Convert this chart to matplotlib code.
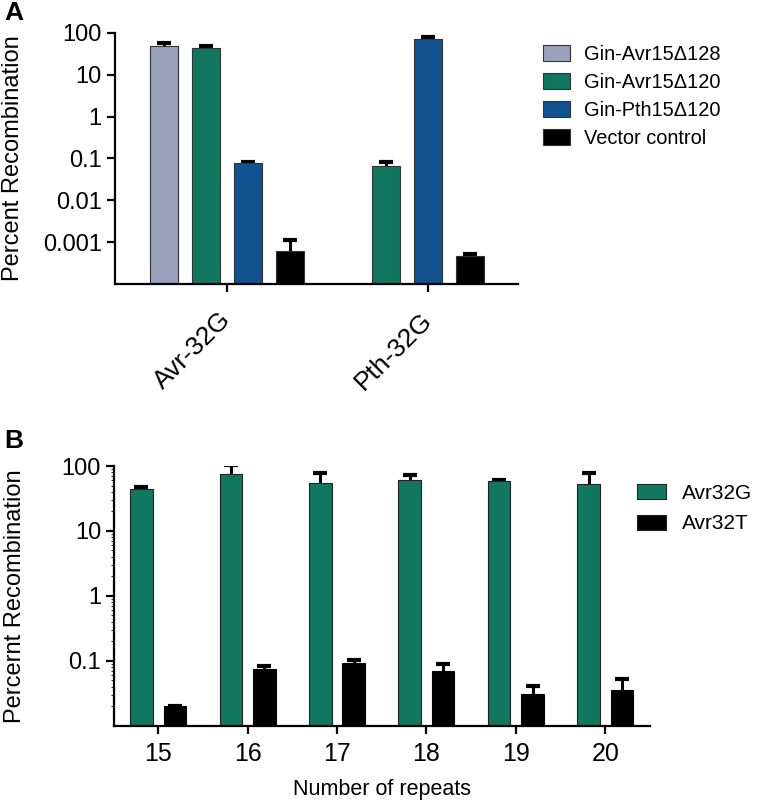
import numpy as np
import matplotlib
matplotlib.use("Agg")
import matplotlib.pyplot as plt
from matplotlib.ticker import NullLocator
from matplotlib.transforms import ScaledTranslation

plt.rcParams['font.family'] = ['Liberation Sans', 'DejaVu Sans']

# ---- Panel A data ----
groups_a = ['Avr-32G', 'Pth-32G']
series_a = ['Gin-Avr15\u0394128', 'Gin-Avr15\u0394120', 'Gin-Pth15\u0394120', 'Vector control']
colors_a = ['#99A1BD', '#117760', '#12518F', '#000000']
# values per series for (Avr-32G, Pth-32G); None = not measured
vals_a = [
    [48.0, None],
    [44.0, 0.067],
    [0.077, 70.0],
    [0.0006, 0.00048],
]
errs_a = [
    [11.0, None],
    [5.5, 0.017],
    [0.007, 12.0],
    [0.0005, 0.00005],
]
yticks_a = [100, 10, 1, 0.1, 0.01, 0.001]
yticklabels_a = ['100', '10', '1', '0.1', '0.01', '0.001']

# ---- Panel B data ----
repeats = [15, 16, 17, 18, 19, 20]
series_b = ['Avr32G', 'Avr32T']
colors_b = ['#117760', '#000000']
avr32g = [44.3, 76.0, 54.0, 61.5, 58.0, 52.3]
avr32g_err = [2.8, 28.0, 23.0, 11.0, 3.0, 27.0]
avr32t = [0.0201, 0.0753, 0.091, 0.069, 0.0303, 0.0358]
avr32t_err = [0.0, 0.0075, 0.011, 0.020, 0.010, 0.016]
yticks_b = [100, 10, 1, 0.1]
yticklabels_b = ['100', '10', '1', '0.1']

W, H = 760, 805
fig = plt.figure(figsize=(W / 100, H / 100), dpi=100)


def px_axes(left, top, right, bottom):
    return fig.add_axes([left / W, 1 - bottom / H, (right - left) / W, (bottom - top) / H])


def style_axes(ax):
    for s in ['top', 'right']:
        ax.spines[s].set_visible(False)
    for s in ['left', 'bottom']:
        ax.spines[s].set_linewidth(1.6)
    ax.tick_params(axis='both', direction='out', length=6, width=1.6, labelsize=17)
    ax.yaxis.set_minor_locator(NullLocator())


def up_errorbar(ax, x, y, e):
    _, caps, _ = ax.errorbar(x, y, yerr=[[0] * len(y), e], fmt='none', ecolor='black',
                             elinewidth=2.2, capsize=5, capthick=3, zorder=1)
    # keep only the upper caps
    if len(caps) == 2:
        caps[0].set_visible(False)


# ---- Panel A ----
axA = px_axes(115, 33, 518, 284)
style_axes(axA)
axA.set_yscale('log')
axA.set_ylim(1e-4, 100)

slot = 1.0
bw = 0.667
gcenters = [0.0, 4.79]
for gi, gc in enumerate(gcenters):
    present = [si for si in range(len(series_a)) if vals_a[si][gi] is not None]
    n = len(present)
    for k, si in enumerate(present):
        x = gc + (k - (n - 1) / 2) * slot
        axA.bar(x, vals_a[si][gi], width=bw, color=colors_a[si], edgecolor='#333333',
                linewidth=0.8, zorder=2)
        up_errorbar(axA, [x], [vals_a[si][gi]], [errs_a[si][gi]])

axA.set_xlim(-2.67, 6.93)
axA.set_xticks(gcenters)
axA.set_xticklabels(groups_a, rotation=45, ha='right', rotation_mode='anchor', fontsize=19)
axA.tick_params(axis='x', pad=11)
shift = ScaledTranslation(-8 / 100, 0, fig.dpi_scale_trans)
for lbl in axA.get_xticklabels():
    lbl.set_transform(lbl.get_transform() + shift)
axA.set_yticks(yticks_a)
axA.set_yticklabels(yticklabels_a)
axA.set_ylabel('Percent Recombination', fontsize=17)
axA.yaxis.set_label_coords(-0.225, 0.5)

handles_a = [plt.Rectangle((0, 0), 1, 1, facecolor=c, edgecolor='#333333', linewidth=0.8)
             for c in colors_a]
fig.legend(handles_a, series_a, loc='upper left', bbox_to_anchor=(543 / W, 1 - 45 / H),
           frameon=False, fontsize=14.4, handlelength=1.35, handleheight=0.85,
           handletextpad=0.7, labelspacing=0.45, borderpad=0, borderaxespad=0)

fig.text(4 / W, 1 - 1 / H, 'A', fontsize=19, fontweight='bold', va='top', ha='left')

# ---- Panel B ----
axB = px_axes(114.3, 466, 650, 725.7)
style_axes(axB)
axB.set_yscale('log')
axB.set_ylim(0.01, 100)

x = np.array(repeats, dtype=float)
bwb = 0.252
off = 0.187
axB.bar(x - off, avr32g, width=bwb, color=colors_b[0], edgecolor='#222222', linewidth=0.8,
        zorder=2)
axB.bar(x + off, avr32t, width=bwb, color=colors_b[1], edgecolor='#000000', linewidth=0.8,
        zorder=2)
up_errorbar(axB, x - off, avr32g, avr32g_err)
up_errorbar(axB, x + off, avr32t, avr32t_err)

axB.set_xlim(14.51, 20.5)
axB.set_xticks(repeats)
axB.set_xticklabels([str(r) for r in repeats])
axB.tick_params(axis='x', labelsize=18, pad=6)
axB.set_yticks(yticks_b)
axB.set_yticklabels(yticklabels_b)
axB.set_ylabel('Percernt Recombination', fontsize=17)
axB.yaxis.set_label_coords(-0.165, 0.5)
axB.set_xlabel('Number of repeats', fontsize=15.5, labelpad=9)

handles_b = [plt.Rectangle((0, 0), 1, 1, facecolor=c, edgecolor='#222222', linewidth=0.8)
             for c in colors_b]
fig.legend(handles_b, series_b, loc='upper left', bbox_to_anchor=(637 / W, 1 - 484 / H),
           frameon=False, fontsize=15, handlelength=1.4, handleheight=0.72,
           handletextpad=0.75, labelspacing=0.55, borderpad=0, borderaxespad=0)

fig.text(4 / W, 1 - 429 / H, 'B', fontsize=19, fontweight='bold', va='top', ha='left')

fig.savefig('out.png', dpi=100)
